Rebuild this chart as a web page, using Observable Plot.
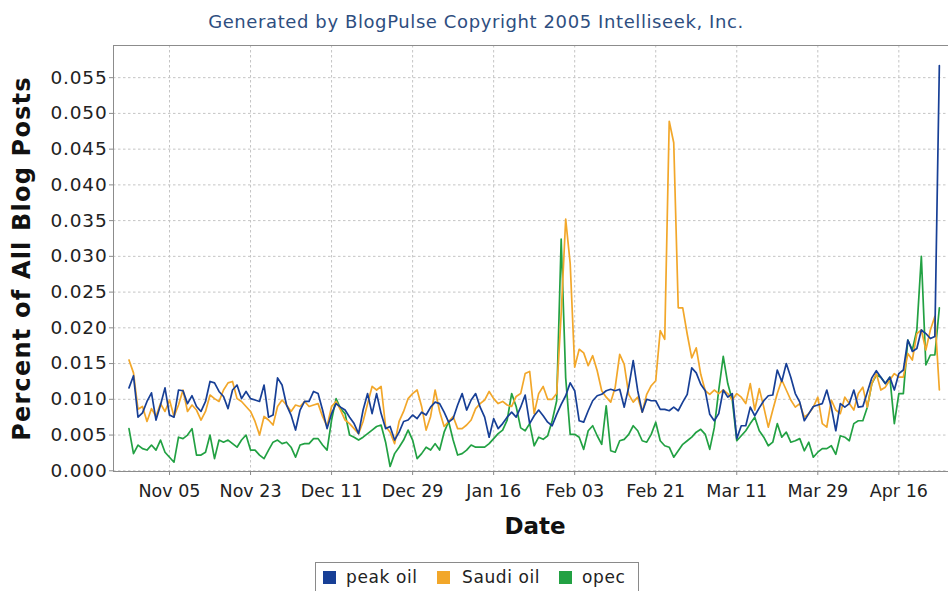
<!DOCTYPE html>
<html><head><meta charset="utf-8">
<script src="https://cdn.jsdelivr.net/npm/d3@7"></script>
<script src="https://cdn.jsdelivr.net/npm/@observablehq/plot@0.6"></script>
<style>
body{margin:0;background:#fff;}
#wrap{position:relative;width:948px;height:591px;overflow:hidden;font-family:"DejaVu Sans",sans-serif;}
#wrap svg{max-width:none !important;}
#legend{position:absolute;left:315px;top:562px;width:324px;height:30px;border:1px solid #8a8a8a;box-sizing:border-box;background:#fff;}
.sw{position:absolute;top:8px;width:13px;height:13px;}
.lt{position:absolute;top:4px;font-size:17px;color:#222;letter-spacing:0.6px;white-space:nowrap;}
</style></head><body><div id="wrap"></div>
<script>
const startDate = "2005-10-27";
const peakOil = [
0.0116,0.0133,0.0075,0.0081,0.0097,0.0109,0.0071,0.0092,0.0116,
0.0078,0.0075,0.0113,0.0112,0.0094,0.0105,0.0090,0.0083,0.0097,0.0125,
0.0123,0.0111,0.0104,0.0087,0.0113,0.0120,0.0101,0.0111,0.0101,0.0099,
0.0097,0.0120,0.0075,0.0078,0.0130,0.0120,0.0092,0.0078,0.0057,0.0085,
0.0097,0.0097,0.0111,0.0108,0.0085,0.0059,0.0080,0.0094,0.0089,0.0085,
0.0075,0.0066,0.0052,0.0085,0.0108,0.0080,0.0108,0.0080,0.0059,0.0062,
0.0043,0.0054,0.0069,0.0071,0.0078,0.0073,0.0082,0.0078,0.0089,0.0096,
0.0094,0.0082,0.0068,0.0073,0.0092,0.0108,0.0085,0.0099,0.0108,0.0089,
0.0075,0.0047,0.0073,0.0059,0.0066,0.0075,0.0082,0.0075,0.0089,0.0106,
0.0066,0.0077,0.0085,0.0077,0.0068,0.0063,0.0079,0.0093,0.0105,0.0123,
0.0112,0.0070,0.0068,0.0084,0.0098,0.0105,0.0107,0.0112,0.0114,0.0112,
0.0114,0.0089,0.0117,0.0154,0.0112,0.0082,0.0100,0.0098,0.0098,0.0086,
0.0086,0.0084,0.0089,0.0084,0.0096,0.0107,0.0144,0.0137,0.0121,0.0112,
0.0079,0.0070,0.0080,0.0113,0.0103,0.0108,0.0045,0.0063,0.0063,0.0089,
0.0077,0.0088,0.0098,0.0105,0.0106,0.0141,0.0125,0.0150,0.0131,0.0108,
0.0096,0.0070,0.0080,0.0090,0.0092,0.0094,0.0113,0.0089,0.0056,0.0094,
0.0089,0.0094,0.0113,0.0089,0.0090,0.0110,0.0130,0.0140,0.0131,0.0122,
0.0131,0.0113,0.0136,0.0141,0.0183,0.0167,0.0171,0.0197,0.0192,0.0185,
0.0188,0.0567];
const saudiOil = [
0.0155,0.0137,0.0086,0.0090,0.0069,0.0087,0.0076,0.0094,0.0083,
0.0099,0.0076,0.0092,0.0113,0.0083,0.0092,0.0085,0.0071,0.0083,0.0106,
0.0101,0.0097,0.0113,0.0123,0.0125,0.0101,0.0097,0.0090,0.0083,0.0069,
0.0050,0.0076,0.0071,0.0064,0.0090,0.0099,0.0092,0.0083,0.0092,0.0090,
0.0097,0.0090,0.0092,0.0094,0.0076,0.0062,0.0090,0.0097,0.0085,0.0071,
0.0066,0.0059,0.0052,0.0069,0.0094,0.0118,0.0113,0.0118,0.0062,0.0054,
0.0038,0.0069,0.0083,0.0101,0.0108,0.0113,0.0090,0.0057,0.0076,0.0113,
0.0083,0.0062,0.0069,0.0076,0.0059,0.0059,0.0064,0.0071,0.0087,0.0094,
0.0099,0.0111,0.0101,0.0094,0.0097,0.0092,0.0090,0.0104,0.0108,0.0136,
0.0139,0.0080,0.0108,0.0118,0.0100,0.0100,0.0108,0.0220,0.0352,0.0290,
0.0145,0.0170,0.0165,0.0147,0.0161,0.0140,0.0112,0.0103,0.0096,0.0117,
0.0163,0.0149,0.0107,0.0096,0.0103,0.0082,0.0107,0.0119,0.0126,0.0196,
0.0184,0.0489,0.0459,0.0228,0.0228,0.0191,0.0158,0.0172,0.0135,0.0112,
0.0107,0.0113,0.0108,0.0113,0.0108,0.0099,0.0108,0.0103,0.0094,0.0122,
0.0085,0.0115,0.0089,0.0061,0.0085,0.0108,0.0127,0.0113,0.0099,0.0089,
0.0094,0.0075,0.0080,0.0089,0.0103,0.0066,0.0061,0.0099,0.0085,0.0080,
0.0103,0.0094,0.0085,0.0108,0.0117,0.0089,0.0122,0.0136,0.0113,0.0117,
0.0127,0.0136,0.0131,0.0131,0.0164,0.0155,0.0192,0.0197,0.0169,0.0197,
0.0216,0.0113];
const opec = [
0.0059,0.0024,0.0036,0.0031,0.0029,0.0036,0.0029,0.0043,0.0026,
0.0019,0.0012,0.0047,0.0045,0.0050,0.0059,0.0022,0.0022,0.0026,0.0050,
0.0017,0.0043,0.0040,0.0043,0.0038,0.0033,0.0043,0.0050,0.0029,0.0029,
0.0022,0.0017,0.0029,0.0040,0.0043,0.0038,0.0040,0.0033,0.0019,0.0036,
0.0038,0.0038,0.0045,0.0045,0.0036,0.0029,0.0071,0.0101,0.0087,0.0080,
0.0050,0.0047,0.0043,0.0047,0.0052,0.0057,0.0062,0.0064,0.0040,0.0006,
0.0024,0.0033,0.0043,0.0057,0.0043,0.0017,0.0024,0.0033,0.0029,0.0038,
0.0029,0.0054,0.0069,0.0043,0.0022,0.0024,0.0029,0.0036,0.0033,0.0033,
0.0033,0.0038,0.0045,0.0052,0.0057,0.0071,0.0108,0.0090,0.0060,0.0056,
0.0066,0.0035,0.0047,0.0044,0.0049,0.0070,0.0098,0.0324,0.0130,0.0051,
0.0051,0.0047,0.0030,0.0056,0.0063,0.0049,0.0037,0.0091,0.0028,0.0026,
0.0042,0.0044,0.0051,0.0063,0.0056,0.0042,0.0040,0.0051,0.0068,0.0042,
0.0035,0.0033,0.0019,0.0028,0.0037,0.0042,0.0047,0.0054,0.0058,0.0051,
0.0030,0.0060,0.0113,0.0160,0.0122,0.0099,0.0042,0.0049,0.0056,0.0066,
0.0075,0.0056,0.0047,0.0035,0.0040,0.0066,0.0047,0.0054,0.0040,0.0042,
0.0045,0.0028,0.0040,0.0019,0.0026,0.0031,0.0031,0.0035,0.0023,0.0049,
0.0047,0.0042,0.0066,0.0070,0.0070,0.0089,0.0122,0.0134,0.0131,0.0122,
0.0131,0.0066,0.0108,0.0108,0.0183,0.0169,0.0197,0.0300,0.0148,0.0162,
0.0162,0.0228];
const seriesNames = ["peak oil", "Saudi oil", "opec"];
const seriesColors = ["#173f96", "#f2a72a", "#22a143"];
const xTickLabels = ["2005-11-05","2005-11-23","2005-12-11","2005-12-29","2006-01-16","2006-02-03","2006-02-21","2006-03-11","2006-03-29","2006-04-16"];
const yTicks = [0,0.005,0.010,0.015,0.020,0.025,0.030,0.035,0.040,0.045,0.050,0.055];
const xDomain = ["2005-10-23T13:27:00Z", "2006-04-27T22:05:00Z"];
const yDomain = [-0.0001, 0.0595];
const titleText = "Generated by BlogPulse Copyright 2005 Intelliseek, Inc.";
const yLabel = "Percent of All Blog Posts";
const xLabel = "Date";

const start = new Date(startDate + "T00:00:00Z");
const seriesValues = {"peak oil": peakOil, "Saudi oil": saudiOil, "opec": opec};
const rows = [];
for (const name of ["opec", "Saudi oil", "peak oil"]) {
  seriesValues[name].forEach((v, i) => rows.push({date: d3.utcDay.offset(start, i), value: v, series: name}));
}
const xTicks = xTickLabels.map(s => new Date(s + "T00:00:00Z"));

const chart = Plot.plot({
  width: 952, height: 591,
  marginLeft: 113, marginRight: 0, marginTop: 45, marginBottom: 120,
  style: {fontFamily: "DejaVu Sans, sans-serif", background: "white", overflow: "visible", maxWidth: "none"},
  x: {type: "utc", domain: xDomain.map(s => new Date(s))},
  y: {domain: yDomain},
  color: {domain: seriesNames, range: seriesColors},
  marks: [
    Plot.gridX({ticks: xTicks, stroke: "#c4c4c4", strokeOpacity: 1, strokeDasharray: "2.5,2.5"}),
    Plot.gridY({ticks: yTicks, stroke: "#c4c4c4", strokeOpacity: 1, strokeDasharray: "2.5,2.5"}),
    Plot.line(rows, {x: "date", y: "value", z: "series", stroke: "series", strokeWidth: 1.7}),
    Plot.frame({stroke: "#8c8c8c"}),
    Plot.axisY({ticks: yTicks, tickFormat: d3.format(".3f"), tickSize: 4, tickPadding: 2, fontSize: 18.5, stroke: "#8c8c8c", fill: "#222", label: null}),
    Plot.axisX({ticks: xTicks, tickFormat: d3.utcFormat("%b %d"), tickSize: 4, tickPadding: 9, fontSize: 17.5, stroke: "#8c8c8c", fill: "#222", label: null}),
    Plot.text([titleText], {frameAnchor: "top", dx: -57, dy: -23, fontSize: 18, fill: "#2e4e80", lineAnchor: "middle", textAnchor: "middle"}),
    Plot.text([yLabel], {frameAnchor: "left", rotate: -90, dx: -91, fontSize: 24, fontWeight: "bold", fill: "#111", lineAnchor: "middle", textAnchor: "middle"}),
    Plot.text([xLabel], {frameAnchor: "bottom", dx: 2, dy: 55, fontSize: 23, fontWeight: "bold", fill: "#111", lineAnchor: "middle", textAnchor: "middle"})
  ]
});
chart.querySelectorAll("text").forEach(t => {
  const s = t.textContent;
  if (s === titleText) t.setAttribute("letter-spacing", "0.6");
  else if (s === yLabel) t.setAttribute("letter-spacing", "1.2");
  else if (/^0\.0\d\d$/.test(s)) t.setAttribute("letter-spacing", "0.8");
});
const wrap = document.getElementById("wrap");
wrap.appendChild(chart);

const legend = document.createElement("div");
legend.id = "legend";
const legendPos = [[7, 30], [121, 146], [243, 266]];
seriesNames.forEach((name, i) => {
  const sw = document.createElement("div");
  sw.className = "sw";
  sw.style.left = legendPos[i][0] + "px";
  sw.style.background = seriesColors[i];
  const lt = document.createElement("div");
  lt.className = "lt";
  lt.style.left = legendPos[i][1] + "px";
  lt.textContent = name;
  legend.appendChild(sw);
  legend.appendChild(lt);
});
wrap.appendChild(legend);
</script>
</body></html>
